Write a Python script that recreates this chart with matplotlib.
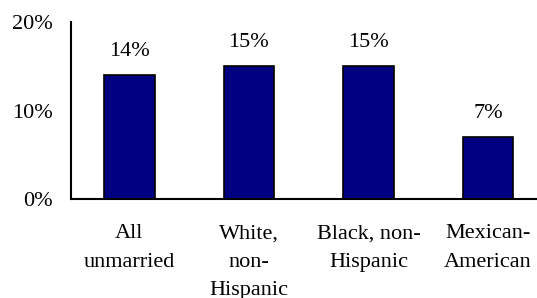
import numpy as np
import matplotlib.pyplot as plt

categories = ["All\nunmarried", "White,\nnon-\nHispanic", "Black, non-\nHispanic", "Mexican-\nAmerican"]
values = [14, 15, 15, 7]
yticks = [0, 10, 20]

plt.rcParams['font.family'] = ['Liberation Serif', 'DejaVu Serif']

fig = plt.figure(figsize=(5.37, 2.98), dpi=100)
ax = fig.add_axes([0.132, 0.332, 0.868, 0.594])

x = np.arange(len(categories))
bars = ax.bar(x, values, width=0.42, color='#000080', edgecolor='black', linewidth=1.2)
for xi, v in zip(x, values):
    ax.annotate(f"{v}%", (xi, v), xytext=(0, 10), textcoords='offset points',
                ha='center', va='bottom', fontsize=16)

ax.set_xlim(-0.49, len(categories) - 0.59)
ax.set_ylim(0, 20)
ax.set_yticks(yticks)
ax.set_yticklabels([f"{t}%" for t in yticks], fontsize=16)
ax.set_xticks(x)
ax.set_xticklabels(categories, fontsize=16, linespacing=1.68, va='top')
ax.tick_params(axis='both', length=0)
ax.tick_params(axis='x', pad=18)
ax.tick_params(axis='y', pad=13)
for s in ['top', 'right']:
    ax.spines[s].set_visible(False)
for s in ['left', 'bottom']:
    ax.spines[s].set_linewidth(1.5)

fig.savefig('out.png', dpi=100)
